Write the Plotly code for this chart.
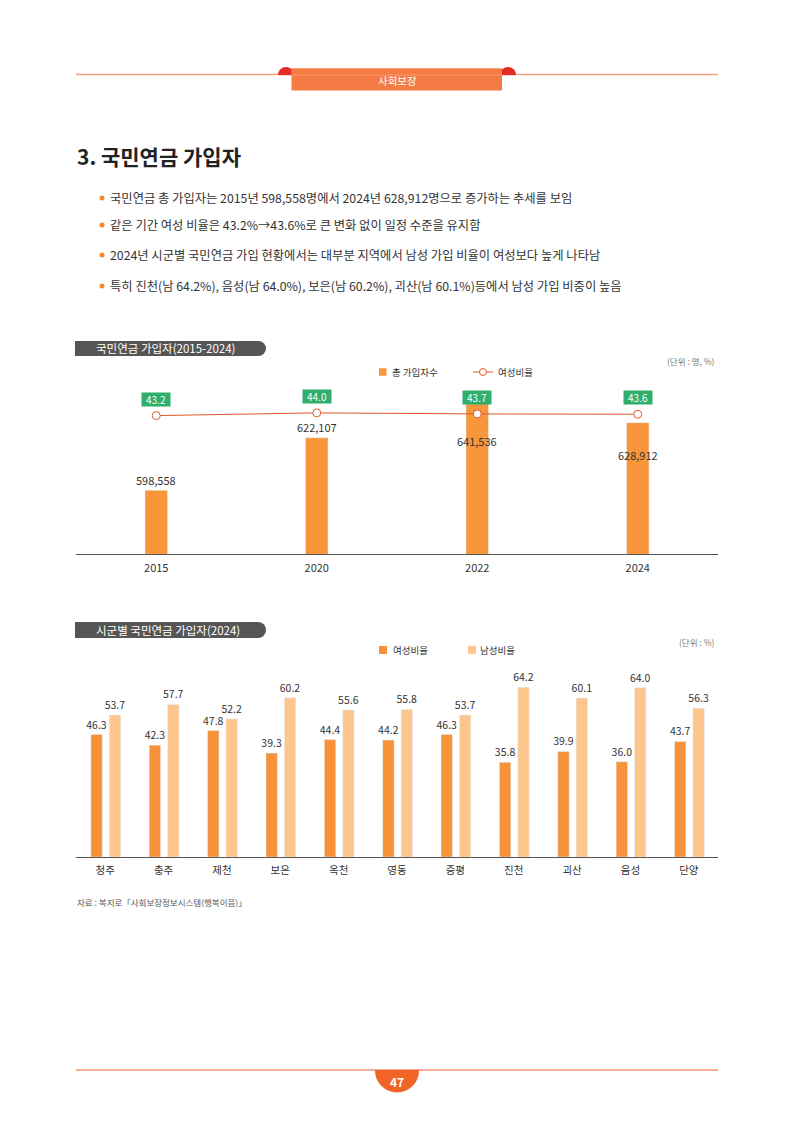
import plotly.graph_objects as go

# ── data ─────────────────────────────────────────────
years = ["2015", "2020", "2022", "2024"]
total_members = [598558, 622107, 641536, 628912]
female_ratio = [43.2, 44.0, 43.7, 43.6]

regions = ["청주", "충주", "제천", "보은", "옥천", "영동", "증평", "진천", "괴산", "음성", "단양"]
female_2024 = [46.3, 42.3, 47.8, 39.3, 44.4, 44.2, 46.3, 35.8, 39.9, 36.0, 43.7]
male_2024 = [53.7, 57.7, 52.2, 60.2, 55.6, 55.8, 53.7, 64.2, 60.1, 64.0, 56.3]

bullets = [
    "국민연금 총 가입자는 2015년 598,558명에서 2024년 628,912명으로 증가하는 추세를 보임",
    "같은 기간 여성 비율은 43.2%→43.6%로 큰 변화 없이 일정 수준을 유지함",
    "2024년 시군별 국민연금 가입 현황에서는 대부분 지역에서 남성 가입 비율이 여성보다 높게 나타남",
    "특히 진천(남 64.2%), 음성(남 64.0%), 보은(남 60.2%), 괴산(남 60.1%)등에서 남성 가입 비중이 높음",
]

# ── page helpers (pixel -> paper); page body adds an 8px margin ──
W, H = 794, 1123
OFF = 8
def X(p): return (p - OFF) / W
def Y(p): return 1 - (p - OFF) / H

KR = "Noto Sans CJK KR"
NUM = "Liberation Sans Narrow, Noto Sans CJK KR"
ORANGE = "#f7963a"
LIGHT = "#fdc68c"
LINE = "#e2582a"
GREEN = "#2fae6c"

fig = go.Figure()

# chart 1: bars
fig.add_trace(go.Bar(x=years, y=total_members, marker_color=ORANGE, width=0.14,
                     xaxis="x", yaxis="y", showlegend=False))
# chart 1: female ratio line (own transparent subplot on the same area)
fig.add_trace(go.Scatter(x=years, y=female_ratio, mode="lines+markers",
                         line=dict(color=LINE, width=1),
                         marker=dict(symbol="circle", size=8, color="white",
                                     line=dict(color=LINE, width=1)),
                         xaxis="x3", yaxis="y4", showlegend=False, cliponaxis=False))

# chart 2: female / male by region
fig.add_trace(go.Bar(x=regions, y=female_2024, marker_color="#f5923a",
                     width=0.195, offset=-0.245,
                     text=[f"{v:.1f}" for v in female_2024], textposition="outside",
                     constraintext="none", cliponaxis=False,
                     textfont=dict(family=NUM, size=10.5, color="#333"),
                     xaxis="x2", yaxis="y3", showlegend=False))
fig.add_trace(go.Bar(x=regions, y=male_2024, marker_color=LIGHT,
                     width=0.195, offset=0.07,
                     text=[f"{v:.1f}" for v in male_2024], textposition="outside",
                     constraintext="none", cliponaxis=False,
                     textfont=dict(family=NUM, size=10.5, color="#333"),
                     xaxis="x2", yaxis="y3", showlegend=False))

ann = []
shapes = []

def text(t, x, y, size, color="#333", family=KR, xanchor="left"):
    ann.append(dict(text=t, x=X(x), y=Y(y), xref="paper", yref="paper", xanchor=xanchor,
                    yanchor="middle", showarrow=False, font=dict(family=family, size=size, color=color)))

def rect(x0, x1, y0, y1, color):
    shapes.append(dict(type="rect", xref="paper", yref="paper", x0=X(x0), x1=X(x1),
                       y0=Y(y1), y1=Y(y0), fillcolor=color, line_width=0))

def circle(x0, x1, y0, y1, color, line=None):
    shapes.append(dict(type="circle", xref="paper", yref="paper", x0=X(x0), x1=X(x1),
                       y0=Y(y1), y1=Y(y0), fillcolor=color,
                       line=line if line else dict(width=0)))

def hline(x0, x1, y, color, width):
    shapes.append(dict(type="line", xref="paper", yref="paper", x0=X(x0), x1=X(x1), y0=Y(y), y1=Y(y),
                       line=dict(color=color, width=width)))

# header
hline(76, 718, 74.5, "#f4a283", 1.5)
for cx in (286, 508):
    circle(cx - 8, cx + 8, 67, 83, "#e62a26")
    rect(cx - 10, cx + 10, 75.2, 86, "white")
rect(291.5, 502, 68.3, 90.5, "#f47c44")
hline(291.5, 502, 75, "#f69a6e", 1)
text("사회보장", 397, 80, 10.5, "white", xanchor="center")

# title + bullets
text("<b>3. 국민연금 가입자</b>", 75, 156, 21, "#222")
for t, yy in zip(bullets, [198, 225, 255, 286]):
    circle(99.5, 104.5, yy - 2.5, yy + 2.5, "#f28a30")
    text(t, 107.5, yy, 12.3, "#333")

# section pills
def pill(y0, y1, label):
    r = (y1 - y0) / 2
    rect(75, 266 - r, y0, y1, "#555555")
    circle(266 - 2 * r, 266, y0, y1, "#555555")
    text(label, 94, (y0 + y1) / 2, 11.5, "white")

pill(341, 356, "국민연금 가입자(2015-2024)")
pill(622, 638, "시군별 국민연금 가입자(2024)")

# units
text("(단위 : 명, %)", 717, 361, 8.5, "#777", xanchor="right")
text("(단위 : %)", 717, 642, 8.5, "#777", xanchor="right")

# legend chart 1
rect(379, 386.5, 368.3, 375.8, ORANGE)
text("총 가입자수", 390, 372, 9.5)
hline(473, 493, 372, LINE, 1)
circle(479.5, 486.5, 368.5, 375.5, "white", dict(color=LINE, width=1))
text("여성비율", 496, 372, 9.5)

# legend chart 2
rect(379, 387, 646, 654, "#f5923a")
text("여성비율", 390.5, 650, 9.5)
rect(468, 476, 646, 654, LIGHT)
text("남성비율", 478.5, 650, 9.5)

# bar value labels (chart 1) - x given as category index
label_shift = [10, 11, -46, -32]
for i, (v, s) in enumerate(zip(total_members, label_shift)):
    ann.append(dict(text=f"{v:,}", x=i, y=v, xref="x", yref="y", yshift=s, showarrow=False,
                    xanchor="center", yanchor="middle",
                    font=dict(family=NUM, size=11, color="#333")))

# green ratio pills
for i, v in enumerate(female_ratio):
    ann.append(dict(text=f"{v:.1f}", x=i, y=v, xref="x3", yref="y4", yshift=16.5, showarrow=False,
                    xanchor="center", yanchor="middle",
                    bgcolor=GREEN, width=25, height=10, borderpad=1.5,
                    font=dict(family=NUM, size=10, color="white")))

# source
text("자료 : 복지로「사회보장정보시스템(행복이음)」", 75, 902, 8.5, "#555")

# footer
circle(375, 419, 1048.5, 1092.5, "#f06426")
rect(370, 424, 1044, 1070, "white")
hline(76, 718, 1070, "#e8602c", 1.2)
text("<b>47</b>", 397, 1081.5, 12, "white", family=NUM, xanchor="center")

common = dict(showgrid=False, zeroline=False, fixedrange=True)
fig.update_layout(
    width=W, height=H, margin=dict(l=0, r=0, t=0, b=0),
    paper_bgcolor="white", plot_bgcolor="rgba(0,0,0,0)",
    font=dict(family=KR, color="#333"),
    barmode="group",
    xaxis=dict(domain=[X(76), X(718)], type="category", categoryorder="array", categoryarray=years,
               range=[-0.5, 3.5], showline=True, linecolor="#555", linewidth=1.2, ticks="",
               ticklabelstandoff=4,
               tickfont=dict(family=NUM, size=11, color="#333"), anchor="y", **common),
    yaxis=dict(domain=[Y(554), Y(385)], range=[570000, 645800], visible=False, anchor="x", **common),
    xaxis3=dict(domain=[X(76), X(718)], type="category", categoryorder="array", categoryarray=years,
                range=[-0.5, 3.5], visible=False, anchor="y4", **common),
    yaxis4=dict(domain=[Y(554), Y(385)], range=[2.5, 52.2], visible=False, anchor="x3", **common),
    xaxis2=dict(domain=[X(76), X(718)], type="category", categoryorder="array", categoryarray=regions,
                range=[-0.5, 10.5], showline=True, linecolor="#555", linewidth=1.2, ticks="",
                ticklabelstandoff=3,
                tickfont=dict(family=KR, size=10.5, color="#333"), anchor="y3", **common),
    yaxis3=dict(domain=[Y(857), Y(660)], range=[0, 74.5], visible=False, anchor="x2", **common),
    annotations=ann,
    shapes=shapes,
)

fig.write_html("out.html")
